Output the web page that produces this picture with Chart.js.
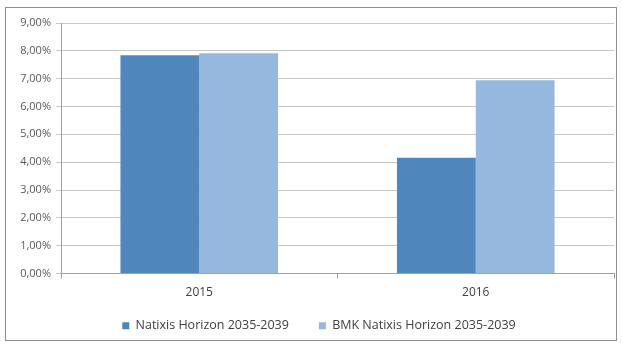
<!DOCTYPE html>
<html>
<head>
<meta charset="utf-8">
<script src="https://cdn.jsdelivr.net/npm/chart.js@4"></script>
<style>
  body { margin: 0; background: #fff; }
  #wrap { position: relative; width: 622px; height: 347px; }
</style>
</head>
<body>
<div id="wrap"><canvas id="perfChart" width="622" height="347"></canvas></div>
<script>
// Chart data
const years = ["2015", "2016"];
const fundReturns = [7.84, 4.16];
const benchReturns = [7.91, 6.94];
const seriesNames = ["Natixis Horizon 2035-2039", "BMK Natixis Horizon 2035-2039"];

const FONT = "'Open Sans', 'Liberation Sans', sans-serif";

// Outer frame like the Excel chart area
const framePlugin = {
    id: "frame",
    beforeDraw(chart) {
        const c = chart.ctx;
        c.save();
        c.fillStyle = "#fff";
        c.fillRect(0, 0, chart.width, chart.height);
        c.strokeStyle = "#8f8f8f";
        c.lineWidth = 1;
        c.strokeRect(5.5, 7.5, 611, 333);
        c.restore();
    },
};

// legend uses a wide item gap; pull it a little closer to the axis
const legendNudge = {
    id: "legendNudge",
    afterLayout(chart) {
        const lg = chart.legend;
        lg.top -= 12;
        lg.bottom -= 12;
        lg.left += 7;
        lg.right += 7;
    },
};

const ctx = document.getElementById("perfChart").getContext("2d");
new Chart(ctx, {
    type: "bar",
    data: {
        labels: years,
        datasets: [
            {
                label: seriesNames[0],
                data: fundReturns,
                backgroundColor: "#4F87BC",
                categoryPercentage: 0.57,
                barPercentage: 1,
            },
            {
                label: seriesNames[1],
                data: benchReturns,
                backgroundColor: "#97B8DE",
                categoryPercentage: 0.57,
                barPercentage: 1,
            },
        ],
    },
    options: {
        responsive: false,
        animation: false,
        layout: { padding: { left: 10, right: 8, top: 23, bottom: -7 } },
        plugins: {
            tooltip: { enabled: false },
            legend: {
                position: "bottom",
                labels: {
                    boxWidth: 7,
                    boxHeight: 7,
                    padding: 30,
                    color: "#404040",
                    font: { family: FONT, size: 12.5 },
                },
            },
        },
        scales: {
            y: {
                min: 0,
                max: 9,
                ticks: {
                    stepSize: 1,
                    padding: 5,
                    color: "#595959",
                    font: { family: FONT, size: 11 },
                    callback: (v) => v.toFixed(2).replace(".", ",") + "%",
                },
                grid: { color: "#c8c8c8", tickLength: 5 },
                border: { color: "#a0a0a0" },
                afterFit: (s) => { s.width = 51; },
            },
            x: {
                ticks: {
                    padding: 7,
                    color: "#404040",
                    font: { family: FONT, size: 12 },
                },
                grid: { offset: true, drawOnChartArea: false, tickLength: 5, color: "#a0a0a0" },
                border: { color: "#a0a0a0" },
                afterFit: (s) => { s.height = 28; },
            },
        },
    },
    plugins: [framePlugin, legendNudge],
});
</script>
</body>
</html>
